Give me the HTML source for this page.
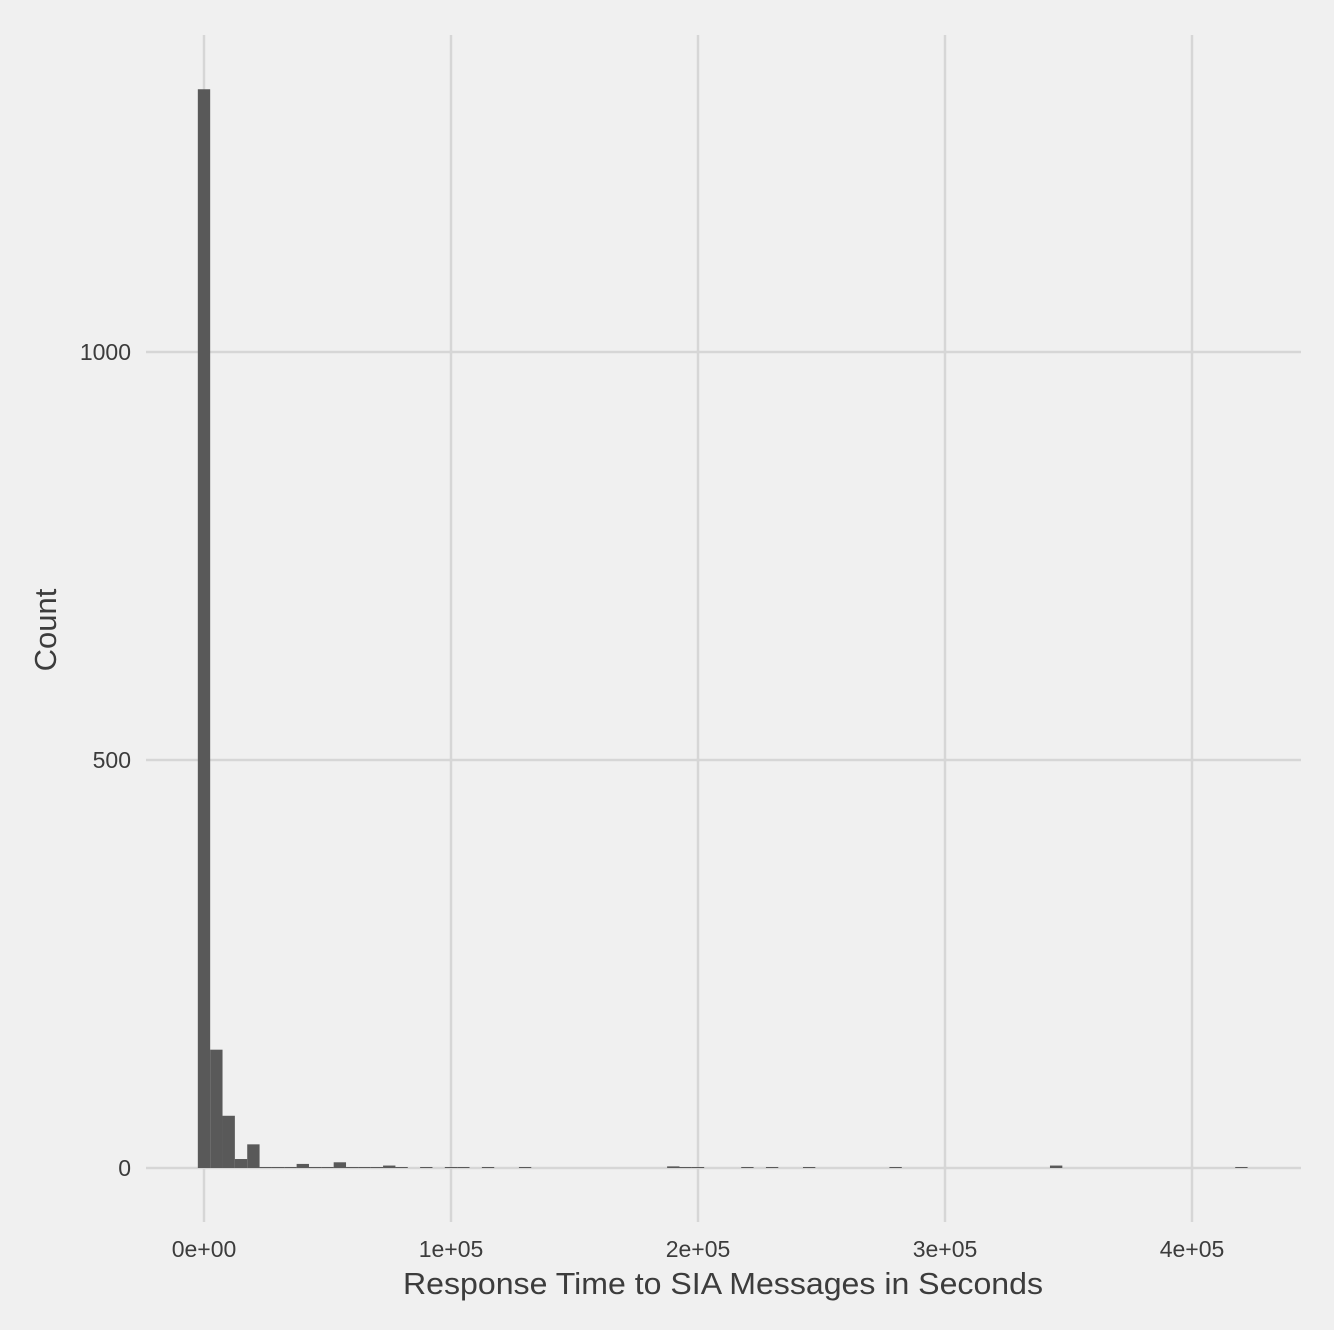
<!DOCTYPE html>
<html><head><meta charset="utf-8"><style>
body{margin:0;background:#f0f0f0;}
svg{display:block;font-family:"Liberation Sans",sans-serif;}
</style></head><body>
<svg id="chart" width="1334" height="1330" viewBox="0 0 1334 1330">
<rect width="1334" height="1330" fill="#f0f0f0"/>
<g id="grid"></g>
<g id="bars"></g>
<g id="ticks"></g>
<text x="723" y="1294" text-anchor="middle" font-size="31" textLength="640" lengthAdjust="spacingAndGlyphs" fill="#3c3c3c">Response Time to SIA Messages in Seconds</text>
<text transform="translate(56,630) rotate(-90)" text-anchor="middle" font-size="31" fill="#3c3c3c">Count</text>
</svg>
<script>
const binCenters=[0,5000,10000,15000,20000,25000,30000,35000,40000,45000,50000,55000,60000,65000,70000,75000,80000,90000,100000,105000,115000,130000,190000,195000,200000,220000,230000,245000,280000,345000,420000];
const counts=[1322,145,64,11,29,1,1,1,5,1,1,7,1,1,1,3,1,1,1,1,1,1,2,1,1,1,1,1,1,3,1];
const binWidth=5000;
const xTicks=[0,100000,200000,300000,400000];
const xTickLabels=["0e+00","1e+05","2e+05","3e+05","4e+05"];
const yTicks=[0,500,1000];
const yTickLabels=["0","500","1000"];

const NS="http://www.w3.org/2000/svg";
const xs=v=>204+v*247/100000;
const ys=v=>1168-v*0.816;
const grid=document.getElementById('grid'),bars=document.getElementById('bars'),ticks=document.getElementById('ticks');
function mk(tag,attrs,parent){const e=document.createElementNS(NS,tag);for(const k in attrs)e.setAttribute(k,attrs[k]);parent.appendChild(e);return e;}
xTicks.forEach((t,i)=>{
  const l=mk('line',{x1:xs(t),x2:xs(t),y1:35,y2:1222,stroke:'#d6d6d6','stroke-width':2.5},grid);
  
  
  const tx=mk('text',{x:xs(t),y:1257,'text-anchor':'middle','font-size':23,fill:'#3c3c3c'},ticks);
  tx.textContent=xTickLabels[i];
  
  
});
yTicks.forEach((t,i)=>{
  const l=mk('line',{x1:146,x2:1301,y1:ys(t),y2:ys(t),stroke:'#d6d6d6','stroke-width':2.5},grid);
  
  
  const tx=mk('text',{x:131,y:ys(t)+8,'text-anchor':'end','font-size':23,fill:'#3c3c3c'},ticks);
  tx.textContent=yTickLabels[i];
  
  
});
binCenters.forEach((c,i)=>{
  const x0=xs(c-binWidth/2),x1=xs(c+binWidth/2);
  const h=Math.max(ys(0)-ys(counts[i]),1);
  const r=mk('rect',{x:x0,y:ys(0)-h,width:x1-x0,height:h,fill:'#595959'},bars);
  
  
});
</script>
</body></html>
